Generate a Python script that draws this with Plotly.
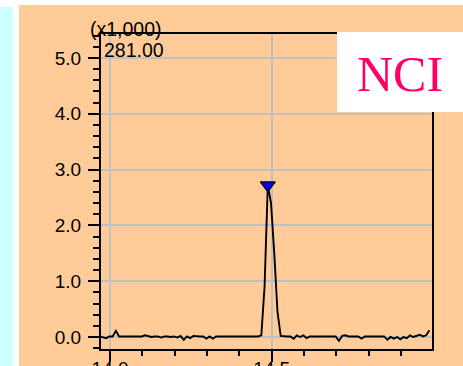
import plotly.graph_objects as go

# Selected-ion chromatogram, m/z 281.00 (intensity in thousands)
start_time = 13.968
scan_step = 0.01
intensity = [
    0.01, 0.00, -0.02, 0.01, 0.01, 0.11, 0.01, 0.01, 0.01, 0.01,
    0.01, 0.01, 0.01, 0.01, 0.03, 0.01, 0.00, 0.01, 0.01, -0.01,
    0.01, 0.01, 0.00, 0.01, -0.01, 0.02, -0.05, 0.01, -0.02, 0.02,
    0.01, 0.01, 0.01, -0.03, 0.01, -0.03, 0.01, 0.01, 0.01, 0.01,
    0.01, 0.01, 0.01, 0.01, 0.01, 0.01, 0.01, 0.01, 0.01, 0.01,
    0.03, 0.90, 2.72, 2.40, 1.50, 0.45, 0.02, 0.01, 0.01, 0.01,
    -0.03, 0.03, 0.00, 0.03, -0.02, 0.01, 0.01, 0.01, 0.00, 0.01,
    0.01, 0.01, 0.01, 0.01, -0.07, 0.02, 0.03, 0.01, 0.01, 0.01,
    0.01, -0.03, 0.01, 0.01, 0.01, 0.01, 0.01, 0.01, 0.01, -0.05,
    0.00, -0.03, 0.00, -0.04, 0.00, -0.02, 0.03, 0.00, 0.02, 0.04,
    0.01, 0.03, 0.12,
]
times = [round(start_time + scan_step * i, 4) for i in range(len(intensity))]

x_tick_vals = [14.0, 14.5]
x_tick_text = ["14.0", "14.5"]
y_tick_vals = [0, 1, 2, 3, 4, 5]
y_tick_text = ["0.0", "1.0", "2.0", "3.0", "4.0", "5.0"]
ion_label = "281.00"
scale_label = "(x1,000)"
mode_label = "NCI"

peak_idx = max(range(len(intensity)), key=lambda i: intensity[i])

# Figure geometry (pixels)
W, H = 463, 366
L, R, T, B = 101, 432, 34, 349


def px(x):
    return (x - L) / (R - L)


def py(y):
    return (B - y) / (B - T)


fig = go.Figure()
fig.add_trace(go.Scatter(
    x=times, y=intensity, mode="lines",
    line=dict(color="black", width=1.9),
    hoverinfo="skip", showlegend=False,
))
fig.add_trace(go.Scatter(
    x=[times[peak_idx]], y=[intensity[peak_idx]], mode="markers",
    marker=dict(symbol="triangle-down", size=13, color="#0000FF",
                line=dict(color="black", width=1.2)),
    hoverinfo="skip", showlegend=False,
))

shapes = [
    # orange panel
    dict(type="rect", xref="paper", yref="paper", layer="below",
         x0=px(19), x1=px(W + 2), y0=py(H + 2), y1=py(5),
         fillcolor="#FFCC99", line=dict(width=0)),
    # cyan strip on the left
    dict(type="rect", xref="paper", yref="paper", layer="below",
         x0=px(-2), x1=px(13), y0=py(H + 2), y1=py(7),
         fillcolor="#CCFFFF", line=dict(width=0)),
    # white label box
    dict(type="rect", xref="paper", yref="paper", layer="above",
         x0=px(337), x1=px(W + 2), y0=py(112), y1=py(32),
         fillcolor="white", line=dict(width=0)),
]

annotations = [
    dict(text=scale_label, xref="paper", yref="paper", x=px(126), y=py(29),
         xanchor="center", yanchor="middle", showarrow=False,
         font=dict(family="Liberation Sans", size=19.5, color="black")),
    dict(text=ion_label, xref="paper", yref="paper", x=px(102), y=py(50),
         xanchor="left", yanchor="middle", showarrow=False,
         font=dict(family="Liberation Sans", size=19.5, color="black")),
    dict(text=mode_label, xref="paper", yref="paper", x=px(399.5), y=py(74),
         xanchor="center", yanchor="middle", showarrow=False,
         font=dict(family="Liberation Serif", size=50, color="#FF0066")),
]

axis_common = dict(
    showline=True, linecolor="black", linewidth=2, mirror=True,
    ticks="outside", ticklen=11, tickwidth=1.5, tickcolor="black",
    showgrid=True, gridcolor="#C0C0C0", gridwidth=1.5,
    zeroline=False, automargin=False,
    tickfont=dict(family="Liberation Sans", size=19, color="black"),
)

fig.update_layout(
    width=W, height=H,
    margin=dict(l=L, r=W - R, t=T, b=H - B, pad=0),
    paper_bgcolor="white", plot_bgcolor="rgba(0,0,0,0)",
    shapes=shapes, annotations=annotations,
    xaxis=dict(range=[13.972, 14.996], tickmode="array",
               tickvals=x_tick_vals, ticktext=x_tick_text,
               ticklabelstandoff=-10,
               minor=dict(dtick=0.1, tick0=14.0, ticks="outside", ticklen=5,
                          tickwidth=1.5, tickcolor="black", showgrid=False),
               **axis_common),
    yaxis=dict(range=[-0.215, 5.43], tickmode="array",
               tickvals=y_tick_vals, ticktext=y_tick_text,
               ticklabelstandoff=3,
               minor=dict(dtick=0.2, tick0=0, ticks="outside", ticklen=6,
                          tickwidth=1.5, tickcolor="black", showgrid=False),
               **axis_common),
)

fig.write_html("out.html")
